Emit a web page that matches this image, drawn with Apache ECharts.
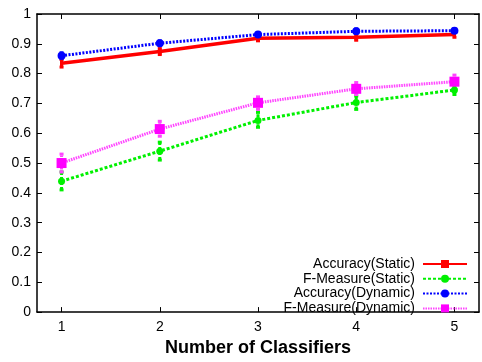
<!DOCTYPE html>
<html>
<head>
<meta charset="utf-8">
<script src="https://cdn.jsdelivr.net/npm/echarts@6/dist/echarts.min.js"></script>
<style>
  html, body { margin: 0; padding: 0; background: #fff; }
  #chart { width: 482px; height: 362px; }
</style>
</head>
<body>
<div id="chart"></div>
<script>
// classifiers on the x axis
var classifiers = [1, 2, 3, 4, 5];

// mean values
var accStatic  = [0.835, 0.874, 0.919, 0.922, 0.931];
var fmStatic   = [0.439, 0.540, 0.643, 0.703, 0.745];
var accDynamic = [0.860, 0.902, 0.931, 0.942, 0.944];
var fmDynamic  = [0.500, 0.614, 0.702, 0.749, 0.773];

// error bar low / high
var accStaticLo  = [0.822, 0.864, 0.910, 0.912, 0.922];
var accStaticHi  = [0.848, 0.884, 0.928, 0.932, 0.940];
var fmStaticLo   = [0.410, 0.510, 0.620, 0.680, 0.730];
var fmStaticHi   = [0.470, 0.570, 0.670, 0.725, 0.760];
var accDynamicLo = [0.850, 0.894, 0.924, 0.935, 0.938];
var accDynamicHi = [0.870, 0.910, 0.938, 0.950, 0.950];
var fmDynamicLo  = [0.470, 0.590, 0.680, 0.730, 0.750];
var fmDynamicHi  = [0.530, 0.640, 0.722, 0.770, 0.795];

var names = ['Accuracy(Static)', 'F-Measure(Static)', 'Accuracy(Dynamic)', 'F-Measure(Dynamic)'];
var colors = ['#ff0000', '#00f000', '#0000ff', '#ff00ff'];

function pairs(ys) {
    return classifiers.map(function (x, i) { return [x, ys[i]]; });
}

function errData(lo, hi) {
    return classifiers.map(function (x, i) { return [x, lo[i], hi[i]]; });
}

function errSeries(id, lo, hi, color, width, dash) {
    return {
        id: id,
        type: 'custom',
        z: 1,
        silent: true,
        data: errData(lo, hi),
        renderItem: function (params, api) {
            var a = api.coord([api.value(0), api.value(1)]);
            var b = api.coord([api.value(0), api.value(2)]);
            var style = { stroke: color, lineWidth: width, lineDash: dash };
            return {
                type: 'group',
                children: [
                    { type: 'line', shape: { x1: a[0], y1: a[1], x2: b[0], y2: b[1] }, style: style },
                    { type: 'line', shape: { x1: a[0] - 2, y1: a[1], x2: a[0] + 2, y2: a[1] }, style: { stroke: color, lineWidth: width } },
                    { type: 'line', shape: { x1: b[0] - 2, y1: b[1], x2: b[0] + 2, y2: b[1] }, style: { stroke: color, lineWidth: width } }
                ]
            };
        }
    };
}

var font = '"Liberation Sans", Arial, sans-serif';

var chart = echarts.init(document.getElementById('chart'));

var option = {
    animation: false,
    backgroundColor: '#fff',
    grid: { left: 37, right: 3, top: 14, bottom: 43 },
    legend: {
        orient: 'vertical',
        right: 14,
        top: 257,
        padding: 0,
        align: 'right',
        itemWidth: 44,
        itemHeight: 10,
        itemGap: 0.8,
        data: names,
        textStyle: { color: '#000', fontSize: 14, lineHeight: 13, height: 13, fontFamily: font, padding: [0, 3, 0, 0] }
    },
    xAxis: [{
        type: 'value',
        min: 0.75,
        max: 5.25,
        name: 'Number of Classifiers',
        nameLocation: 'middle',
        nameGap: 24,
        nameTextStyle: { color: '#000', fontSize: 18, fontWeight: 'bold', fontFamily: font, verticalAlign: 'top' },
        axisLine: { onZero: false, lineStyle: { color: '#000', width: 1.5 } },
        axisTick: { inside: true, length: 5, customValues: classifiers, lineStyle: { color: '#000' } },
        axisLabel: { customValues: classifiers, color: '#000', fontSize: 14, fontFamily: font, margin: 8 },
        splitLine: { show: false }
    }, {
        type: 'value',
        position: 'top',
        min: 0.75,
        max: 5.25,
        axisLine: { onZero: false, lineStyle: { color: '#000', width: 1.5 } },
        axisTick: { inside: true, length: 5, customValues: classifiers, lineStyle: { color: '#000' } },
        axisLabel: { show: false },
        splitLine: { show: false }
    }],
    yAxis: [{
        type: 'value',
        min: 0,
        max: 1,
        interval: 0.1,
        axisLine: { show: true, onZero: false, lineStyle: { color: '#000', width: 1.5 } },
        axisTick: { show: true, inside: true, length: 5, lineStyle: { color: '#000' } },
        axisLabel: {
            color: '#000', fontSize: 14, fontFamily: font, margin: 6,
            formatter: function (v) { return String(Math.round(v * 10) / 10); }
        },
        splitLine: { show: false }
    }, {
        type: 'value',
        position: 'right',
        min: 0,
        max: 1,
        interval: 0.1,
        axisLine: { show: true, onZero: false, lineStyle: { color: '#000', width: 1.5 } },
        axisTick: { show: true, inside: true, length: 5, lineStyle: { color: '#000' } },
        axisLabel: { show: false },
        splitLine: { show: false }
    }],
    series: [
        errSeries('errAccStatic', accStaticLo, accStaticHi, colors[0], 3, null),
        errSeries('errFmStatic', fmStaticLo, fmStaticHi, colors[1], 3, [3, 2]),
        errSeries('errAccDynamic', accDynamicLo, accDynamicHi, colors[2], 3, [2, 1.5]),
        errSeries('errFmDynamic', fmDynamicLo, fmDynamicHi, '#ff44ff', 3, [1.5, 1]),
        {
            name: names[0], type: 'line', z: 3, data: pairs(accStatic),
            symbol: 'rect', symbolSize: [3, 7],
            itemStyle: { color: colors[0] },
            lineStyle: { color: colors[0], width: 3.5 }
        },
        {
            name: names[1], type: 'line', z: 3, data: pairs(fmStatic),
            symbol: 'circle', symbolSize: 7,
            itemStyle: { color: colors[1] },
            lineStyle: { color: colors[1], width: 3, type: [3, 2] }
        },
        {
            name: names[2], type: 'line', z: 3, data: pairs(accDynamic),
            symbol: 'circle', symbolSize: 8,
            itemStyle: { color: colors[2] },
            lineStyle: { color: colors[2], width: 3, type: [2, 1.5] }
        },
        {
            name: names[3], type: 'line', z: 3, data: pairs(fmDynamic),
            symbol: 'rect', symbolSize: 10,
            itemStyle: { color: colors[3] },
            lineStyle: { color: '#ff44ff', width: 3, type: [1.5, 1] }
        }
    ]
};

chart.setOption(option);
</script>
</body>
</html>
